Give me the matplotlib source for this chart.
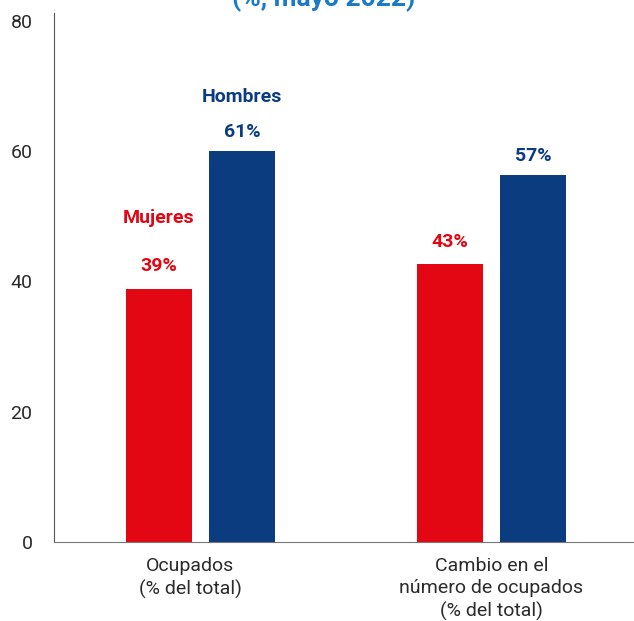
import matplotlib

matplotlib.use("Agg")

import matplotlib.pyplot as plt
import matplotlib.transforms as mtransforms
import numpy as np

plt.rcParams["font.family"] = ["Roboto", "DejaVu Sans"]

RED = "#E30613"
BLUE = "#0B3C7F"
TITLE_BLUE = "#1A7AC8"
GREY = "#2B2B2B"

categories = ["Ocupados\n(% del total)", "Cambio en el\nnúmero de ocupados\n(% del total)"]
mujeres = [38.9, 42.6]
hombres = [60.0, 56.3]
mujeres_labels = ["39%", "43%"]
hombres_labels = ["61%", "57%"]

fig = plt.figure(figsize=(6.34, 6.21), dpi=100)
ax = fig.add_axes([0.0852, 0.1272, 0.9148, 0.8518])

x = np.arange(len(categories))
off = 0.1426
w = 0.227
ax.bar(x - off, mujeres, width=w, color=RED)
ax.bar(x + off, hombres, width=w, color=BLUE)

for i in range(len(categories)):
    ax.annotate(mujeres_labels[i], (x[i] - off, mujeres[i]), xytext=(0, 16.5), textcoords="offset points",
                ha="center", va="center", fontsize=14, fontweight="bold", color=RED)
    ax.annotate(hombres_labels[i], (x[i] + off, hombres[i]), xytext=(0, 13.7), textcoords="offset points",
                ha="center", va="center", fontsize=14, fontweight="bold", color=BLUE)

ax.annotate("Mujeres", (x[0] - off, mujeres[0]), xytext=(0, 51), textcoords="offset points",
            ha="center", va="center", fontsize=14, fontweight="bold", color=RED)
ax.annotate("Hombres", (x[0] + off, hombres[0]), xytext=(0, 39), textcoords="offset points",
            ha="center", va="center", fontsize=14, fontweight="bold", color=BLUE)

ax.set_xlim(-0.503, 1.49)
ax.set_ylim(0, 81.2)
ax.set_yticks([0, 20, 40, 60, 80])
ax.set_xticks(x)
ax.set_xticklabels(categories, linespacing=1.3)
ax.tick_params(axis="both", length=0, labelsize=14, colors=GREY)
ax.tick_params(axis="x", pad=11)
ax.tick_params(axis="y", pad=15.5)
# first category label sits a little left of its group in the original
xlabs = ax.get_xticklabels()
xlabs[0].set_transform(xlabs[0].get_transform() + mtransforms.ScaledTranslation(-0.1, 0, fig.dpi_scale_trans))
for s in ["top", "right"]:
    ax.spines[s].set_visible(False)
ax.spines["left"].set_color("#555555")
ax.spines["bottom"].set_color("#777777")

fig.text(0.51, 0.9895, "(%, mayo 2022)", ha="center", va="baseline", fontsize=19,
         fontweight="bold", color=TITLE_BLUE)

fig.savefig("out.png", dpi=100)
